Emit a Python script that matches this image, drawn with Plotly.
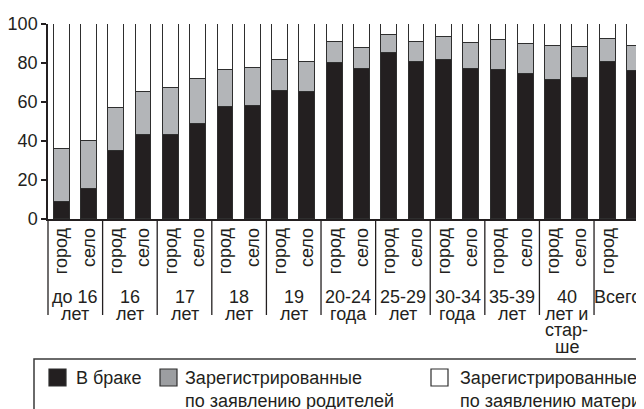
import plotly.graph_objects as go

# ---- data ----
places = ["город", "село"]
group_labels = [
    ["до 16", "лет"], ["16", "лет"], ["17", "лет"], ["18", "лет"], ["19", "лет"],
    ["20-24", "года"], ["25-29", "лет"], ["30-34", "года"], ["35-39", "лет"],
    ["40", "лет и", "стар-", "ше"], ["Всего"],
]
# interleaved: город, село for each group
married = [8.5, 15.6, 34.7, 43.2, 43.1, 48.5, 57.3, 58.1, 65.8, 65.1,
           79.8, 76.8, 85.1, 80.3, 81.7, 76.9, 76.6, 74.5, 71.5, 72.5, 80.7, 76.1]
parents = [27.4, 24.4, 22.1, 21.8, 24.1, 23.1, 18.9, 19.2, 15.9, 15.4,
           10.8, 11.1, 9.1, 10.6, 11.8, 13.2, 15.2, 15.1, 17.2, 15.7, 11.4, 12.4]
mother = [64.1, 60.0, 43.2, 35.0, 32.8, 28.4, 23.8, 22.7, 18.3, 19.5,
          9.4, 12.1, 5.8, 9.1, 6.5, 9.9, 8.2, 10.4, 11.3, 11.8, 7.9, 11.5]
series_names = [["В браке"],
                ["Зарегистрированные", "по заявлению родителей"],
                ["Зарегистрированные", "по заявлению матери"]]
series_values = [married, parents, mother]
bar_colors = ["#231f20", "#b3b5b8", "#ffffff"]
legend_colors = ["#231f20", "#9c9ea1", "#ffffff"]

INK = "#231f20"
FONT = "Liberation Sans, Arial, sans-serif"

# the page body has an 8px default margin; work in window pixels
OX, OY = 8, 8
W, H = 644 - OX, 409 - OY
AXIS_X, TOP_Y, BOT_Y = 48, 24, 219          # window pixels
L = AXIS_X - OX
T = TOP_Y - OY
PH = BOT_Y - TOP_Y
B = H - T - PH
PW = W - L
X_RANGE = [-0.5, 21.33]

n = len(married)
xs = list(range(n))
ticktext = [places[i % 2] for i in xs]

fig = go.Figure()
for name, vals, col in zip(series_names, series_values, bar_colors):
    fig.add_trace(go.Bar(
        x=xs, y=vals, name=" ".join(name), width=0.58,
        marker=dict(color=col, line=dict(color="#2e2e2e", width=1.3)),
        showlegend=False,
    ))


def px_x(p):
    return (p - AXIS_X) / PW


def px_y(p):
    return (BOT_Y - p) / PH


def data_to_paper_x(v):
    return (v - X_RANGE[0]) / (X_RANGE[1] - X_RANGE[0])


shapes = []
annotations = []

# group separators
for g in range(len(group_labels)):
    xb = 2 * g - 0.5
    shapes.append(dict(type="line", xref="paper", yref="paper",
                       x0=data_to_paper_x(xb), x1=data_to_paper_x(xb),
                       y0=0, y1=px_y(315),
                       line=dict(color=INK, width=1.3)))

# group labels
line_centers = [297, 313.5, 330, 346.5]
for g, lines in enumerate(group_labels):
    last = g == len(group_labels) - 1
    for k, txt in enumerate(lines):
        annotations.append(dict(text=txt, xref="paper" if last else "x", yref="paper",
                                x=px_x(643) if last else 2 * g + 0.5,
                                y=px_y(line_centers[k]),
                                xanchor="right" if last else "center", yanchor="middle",
                                showarrow=False,
                                font=dict(size=18, color=INK, family=FONT)))

# legend box
shapes.append(dict(type="rect", xref="paper", yref="paper",
                   x0=px_x(34), x1=px_x(700), y0=px_y(359), y1=px_y(460),
                   line=dict(color="#3a3a3a", width=1.5), fillcolor="rgba(0,0,0,0)"))

sw_x = [49, 160, 431]
tx_x = [74, 183, 458]
for i, (name, col) in enumerate(zip(series_names, legend_colors)):
    shapes.append(dict(type="rect", xref="paper", yref="paper",
                       x0=px_x(sw_x[i]), x1=px_x(sw_x[i] + 17),
                       y0=px_y(369), y1=px_y(386),
                       line=dict(color="#2e2e2e", width=1.2), fillcolor=col))
    for k, txt in enumerate(name):
        annotations.append(dict(text=txt, xref="paper", yref="paper",
                                x=px_x(tx_x[i]), y=px_y(378 + 23 * k),
                                xanchor="left", yanchor="middle",
                                showarrow=False,
                                font=dict(size=18, color=INK, family=FONT)))

fig.update_layout(
    width=W, height=H,
    margin=dict(l=L, r=0, t=T, b=B, pad=0),
    paper_bgcolor="white", plot_bgcolor="white",
    barmode="stack", bargap=0,
    font=dict(family=FONT, size=18, color=INK),
    shapes=shapes, annotations=annotations,
    xaxis=dict(range=X_RANGE, tickmode="array", tickvals=xs, ticktext=ticktext,
               tickangle=-90, showline=True, linecolor=INK, linewidth=1.5,
               ticks="", showgrid=False, zeroline=False,
               tickfont=dict(size=18, color=INK, family=FONT)),
    yaxis=dict(range=[0, 100], tickmode="array", tickvals=[0, 20, 40, 60, 80, 100],
               ticks="outside", ticklen=5, tickwidth=1.5, tickcolor=INK,
               showline=True, linecolor=INK, linewidth=1.5,
               showgrid=False, zeroline=False,
               tickfont=dict(size=18, color=INK, family=FONT)),
)

fig.write_html("out.html")
